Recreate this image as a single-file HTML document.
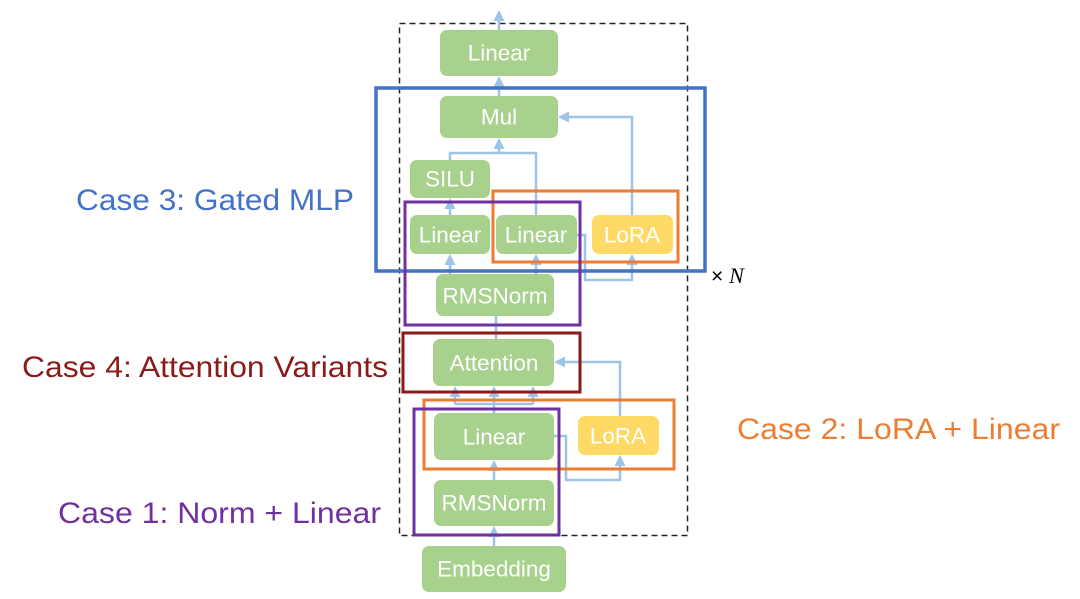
<!DOCTYPE html>
<html><head><meta charset="utf-8"><style>
html,body{margin:0;padding:0;background:#fff;}
svg{display:block;}
text{font-family:"Liberation Sans",Arial,sans-serif;}
.n{fill:#A9D18E;}
.y{fill:#FFD966;}
.t{fill:#fff;font-size:22.5px;text-anchor:middle;dominant-baseline:central;}
.c{fill:none;stroke:#9DC3E6;stroke-width:2.5;}
</style></head><body>
<svg width="1080" height="599" viewBox="0 0 1080 599">
<defs><marker id="a" markerWidth="11" markerHeight="11" refX="5" refY="5.5" orient="auto" markerUnits="userSpaceOnUse"><path d="M0,0 L11,5.5 L0,11 Z" fill="#9DC3E6"/></marker></defs>
<rect x="399.5" y="23.5" width="288" height="512" fill="none" stroke="#222" stroke-width="1.5" stroke-dasharray="6,4"/>
<path class="c" d="M499,30 L499,16" marker-end="url(#a)"/>
<path class="c" d="M499,96 L499,82" marker-end="url(#a)"/>
<path class="c" d="M450,160 L450,153 L536,153 L536,215"/>
<path class="c" d="M499,153 L499,144" marker-end="url(#a)"/>
<path class="c" d="M632,215 L632,117 L564,117" marker-end="url(#a)"/>
<path class="c" d="M450,215 L450,204" marker-end="url(#a)"/>
<path class="c" d="M450,274 L450,260" marker-end="url(#a)"/>
<path class="c" d="M536,274 L536,260" marker-end="url(#a)"/>
<path class="c" d="M577,235 L585,235 L585,280 L632,280 L632,260" marker-end="url(#a)"/>
<path class="c" d="M496,316 L496,339"/>
<path class="c" d="M494,413 L494,404 M455,404 L533,404"/>
<path class="c" d="M455,404 L455,392" marker-end="url(#a)"/>
<path class="c" d="M494,404 L494,392" marker-end="url(#a)"/>
<path class="c" d="M533,404 L533,392" marker-end="url(#a)"/>
<path class="c" d="M620,416 L620,362 L560,362" marker-end="url(#a)"/>
<path class="c" d="M554,436 L566,436 L566,480 L620,480 L620,461" marker-end="url(#a)"/>
<path class="c" d="M494,480 L494,466" marker-end="url(#a)"/>
<path class="c" d="M494,546 L494,532" marker-end="url(#a)"/>
<rect class="n" x="440" y="30" width="118" height="46" rx="7"/><text class="t" x="499" y="53">Linear</text>
<rect class="n" x="440" y="96" width="118" height="42" rx="7"/><text class="t" x="499" y="117">Mul</text>
<rect class="n" x="410" y="160" width="80" height="38" rx="7"/><text class="t" x="450" y="179">SILU</text>
<rect class="n" x="410" y="215" width="80" height="39" rx="7"/><text class="t" x="450" y="235">Linear</text>
<rect class="n" x="496" y="215" width="81" height="39" rx="7"/><text class="t" x="536" y="235">Linear</text>
<rect class="y" x="592" y="215" width="81" height="39" rx="7"/><text class="t" x="632" y="235">LoRA</text>
<rect class="n" x="436" y="274" width="118" height="42" rx="7"/><text class="t" x="495" y="296">RMSNorm</text>
<rect class="n" x="433" y="339" width="121" height="47" rx="7"/><text class="t" x="494" y="363">Attention</text>
<rect class="n" x="434" y="413" width="120" height="47" rx="7"/><text class="t" x="494" y="437">Linear</text>
<rect class="y" x="578" y="416" width="81" height="39" rx="7"/><text class="t" x="618" y="436">LoRA</text>
<rect class="n" x="434" y="480" width="120" height="46" rx="7"/><text class="t" x="494" y="503">RMSNorm</text>
<rect class="n" x="422" y="546" width="144" height="46" rx="7"/><text class="t" x="494" y="569">Embedding</text>
<rect x="376" y="88" width="329" height="183" fill="none" stroke="#4472C4" stroke-width="3.5"/>
<rect x="493" y="191" width="185" height="71" fill="none" stroke="#ED7D31" stroke-width="3"/>
<rect x="405" y="202" width="175" height="123" fill="none" stroke="#7030A0" stroke-width="3"/>
<rect x="403" y="333" width="177" height="59" fill="none" stroke="#8B1A1A" stroke-width="3"/>
<rect x="424" y="400" width="250" height="69" fill="none" stroke="#ED7D31" stroke-width="3"/>
<rect x="414" y="409" width="145" height="126" fill="none" stroke="#7030A0" stroke-width="3"/>
<text x="711" y="283" font-size="21" fill="#000">× <tspan font-family="Liberation Serif" font-style="italic" font-size="22">N</tspan></text>
<text x="76" y="210" font-size="30" fill="#4472C4" textLength="278" lengthAdjust="spacingAndGlyphs">Case 3: Gated MLP</text>
<text x="22" y="377" font-size="30" fill="#8B1A1A" textLength="366" lengthAdjust="spacingAndGlyphs">Case 4: Attention Variants</text>
<text x="737" y="439" font-size="30" fill="#ED7D31" textLength="323" lengthAdjust="spacingAndGlyphs">Case 2: LoRA + Linear</text>
<text x="58" y="523" font-size="30" fill="#7030A0" textLength="323" lengthAdjust="spacingAndGlyphs">Case 1: Norm + Linear</text>
</svg>
</body></html>
